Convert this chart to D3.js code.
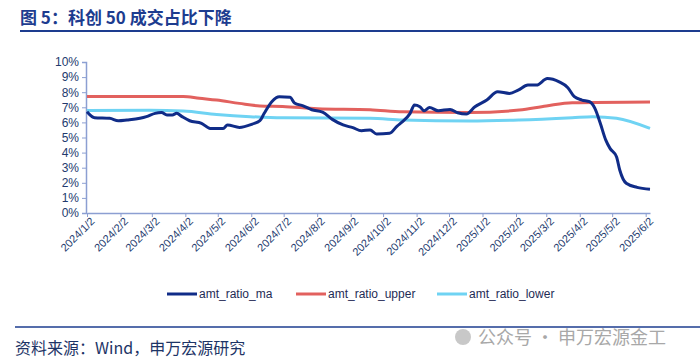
<!DOCTYPE html>
<html>
<head>
<meta charset="utf-8">
<script src="https://d3js.org/d3.v7.min.js"></script>
<style>
  body { margin: 0; background: #fff; font-family: Arial, "Liberation Sans", sans-serif; }
</style>
</head>
<body>
<script>
// series (percent)
var maData = [
  ["2024-01-02",6.71],["2024-01-09",6.31],["2024-01-23",6.27],["2024-01-31",6.11],["2024-02-08",6.16],
  ["2024-02-20",6.27],["2024-02-26",6.38],["2024-03-05",6.6],["2024-03-11",6.65],["2024-03-16",6.49],
  ["2024-03-21",6.49],["2024-03-25",6.6],["2024-03-30",6.38],["2024-04-06",6.11],["2024-04-17",5.94],
  ["2024-04-25",5.6],["2024-05-07",5.6],["2024-05-11",5.83],["2024-05-22",5.67],["2024-06-03",5.89],
  ["2024-06-10",6.11],["2024-06-14",6.6],["2024-06-21",7.37],["2024-06-28",7.7],["2024-07-08",7.66],
  ["2024-07-12",7.28],["2024-07-20",7.1],["2024-07-28",6.84],["2024-08-07",6.68],["2024-08-16",6.2],
  ["2024-08-26",5.83],["2024-09-04",5.65],["2024-09-12",5.45],["2024-09-20",5.5],["2024-09-26",5.23],
  ["2024-10-08",5.28],["2024-10-15",5.76],["2024-10-20",6.05],["2024-10-27",6.6],["2024-10-31",7.15],
  ["2024-11-05",7.04],["2024-11-09",6.77],["2024-11-14",6.99],["2024-11-22",6.77],["2024-12-03",6.86],
  ["2024-12-10",6.64],["2024-12-18",6.55],["2024-12-26",7.04],["2025-01-06",7.48],["2025-01-16",8.03],
  ["2025-01-27",7.92],["2025-02-04",8.14],["2025-02-13",8.47],["2025-02-21",8.47],["2025-03-03",8.9],
  ["2025-03-14",8.68],["2025-03-22",8.3],["2025-03-28",7.7],["2025-04-04",7.48],["2025-04-11",7.37],
  ["2025-04-16",6.93],["2025-04-21",5.94],["2025-04-26",4.84],["2025-04-30",4.28],["2025-05-06",3.73],
  ["2025-05-09",2.85],["2025-05-15",1.97],["2025-05-25",1.7],["2025-06-06",1.57]
];
var upperData = [
  ["2024-01-02",7.72],["2024-03-31",7.72],["2024-04-15",7.6],["2024-05-01",7.48],["2024-05-22",7.26],
  ["2024-06-10",7.09],["2024-07-01",7.05],["2024-08-02",6.91],["2024-09-20",6.84],["2024-10-20",6.7],
  ["2024-12-21",6.65],["2025-02-05",6.82],["2025-03-02",7.09],["2025-03-26",7.3],["2025-06-06",7.35]
];
var lowerData = [
  ["2024-01-02",6.78],["2024-02-29",6.8],["2024-03-31",6.75],["2024-05-01",6.53],["2024-06-01",6.38],
  ["2024-07-01",6.3],["2024-09-20",6.27],["2024-10-20",6.16],["2024-12-21",6.09],["2025-02-05",6.16],
  ["2025-03-26",6.31],["2025-04-14",6.38],["2025-05-06",6.27],["2025-06-06",5.6]
];
var tickDates = ["2024-01-02","2024-02-02","2024-03-02","2024-04-02","2024-05-02","2024-06-02",
  "2024-07-02","2024-08-02","2024-09-02","2024-10-02","2024-11-02","2024-12-02",
  "2025-01-02","2025-02-02","2025-03-02","2025-04-02","2025-05-02","2025-06-02"];
var yTicks = [0,1,2,3,4,5,6,7,8,9,10];
var seriesNames = ["amt_ratio_ma","amt_ratio_upper","amt_ratio_lower"];
var seriesColors = ["#102c88","#e2615e","#6fd3f3"];

var width = 700, height = 364;
var parse = d3.timeParse("%Y-%m-%d");
var svg = d3.select("body").append("svg").attr("width", width).attr("height", height);

// title
svg.append("text").attr("x", 20).attr("y", 24)
  .attr("font-size", 17).attr("font-weight", "bold").attr("fill", "#1d3c8f")
  .attr("font-family", "'Noto Sans CJK SC', sans-serif")
  .text("图 5：科创 50 成交占比下降");
svg.append("line").attr("x1", 20).attr("x2", 700).attr("y1", 31).attr("y2", 31)
  .attr("stroke", "#1d3c8f").attr("stroke-width", 2);

var x = d3.scaleTime().domain([parse("2024-01-02"), parse("2025-06-06")]).range([87, 650]);
var y = d3.scaleLinear().domain([0, 10]).range([213, 62]);

var axisColor = "#8c9fd2", labelColor = "#233a6e";

// y axis
var ya = svg.append("g").attr("transform", "translate(86,0)")
  .call(d3.axisLeft(y).tickValues(yTicks).tickSize(4).tickFormat(function(d){ return d + "%"; }));
ya.select(".domain").attr("stroke", axisColor).attr("stroke-width", 1.5);
ya.selectAll("line").attr("stroke", axisColor);
ya.selectAll("text").attr("fill", labelColor).attr("font-size", 12).attr("font-family", "Arial, 'Liberation Sans'");

// x axis
var xa = svg.append("g").attr("transform", "translate(0,213)")
  .call(d3.axisBottom(x).tickValues(tickDates.map(parse)).tickSize(4).tickSizeOuter(0)
    .tickFormat(d3.timeFormat("%Y/%-m/%-d")));
xa.select(".domain").attr("stroke", axisColor).attr("stroke-width", 1.5);
xa.selectAll("line").attr("stroke", axisColor);
xa.selectAll("text").attr("fill", labelColor).attr("font-size", 11).attr("font-family", "Arial, 'Liberation Sans'")
  .attr("text-anchor", "end").attr("dy", 0).attr("dx", 0)
  .attr("transform", "translate(3,4) rotate(-45)");

// lines
var line = d3.line().x(function(d){ return x(parse(d[0])); }).y(function(d){ return y(d[1]); })
  .curve(d3.curveMonotoneX);
[upperData, lowerData, maData].forEach(function(data, i) {
  var idx = [1, 2, 0][i];
  svg.append("path").datum(data).attr("d", line).attr("fill", "none")
    .attr("stroke", seriesColors[idx]).attr("stroke-width", 3).attr("stroke-linejoin", "round");
});

// legend
var legX = [167, 296, 437];
seriesNames.forEach(function(n, i) {
  svg.append("line").attr("x1", legX[i]).attr("x2", legX[i] + 30).attr("y1", 294).attr("y2", 294)
    .attr("stroke", seriesColors[i]).attr("stroke-width", 3);
  svg.append("text").attr("x", legX[i] + 32).attr("y", 298).attr("font-size", 12)
    .attr("fill", "#1e2b55").text(n);
});

// footer
svg.append("line").attr("x1", 15).attr("x2", 700).attr("y1", 327).attr("y2", 327)
  .attr("stroke", "#1d3c8f").attr("stroke-width", 1.5);
svg.append("text").attr("x", 15).attr("y", 354).attr("font-size", 16)
  .attr("font-family", "'Noto Sans CJK SC', sans-serif").attr("fill", "#1d3466")
  .text("资料来源：Wind，申万宏源研究");
svg.append("circle").attr("cx", 463).attr("cy", 337).attr("r", 8).attr("fill", "#c8c8c8");
svg.append("text").attr("x", 478).attr("y", 344).attr("font-size", 18)
  .attr("font-family", "'Noto Sans CJK SC', sans-serif").attr("fill", "#a8a8a8")
  .text("公众号 · 申万宏源金工");
</script>
</body>
</html>
